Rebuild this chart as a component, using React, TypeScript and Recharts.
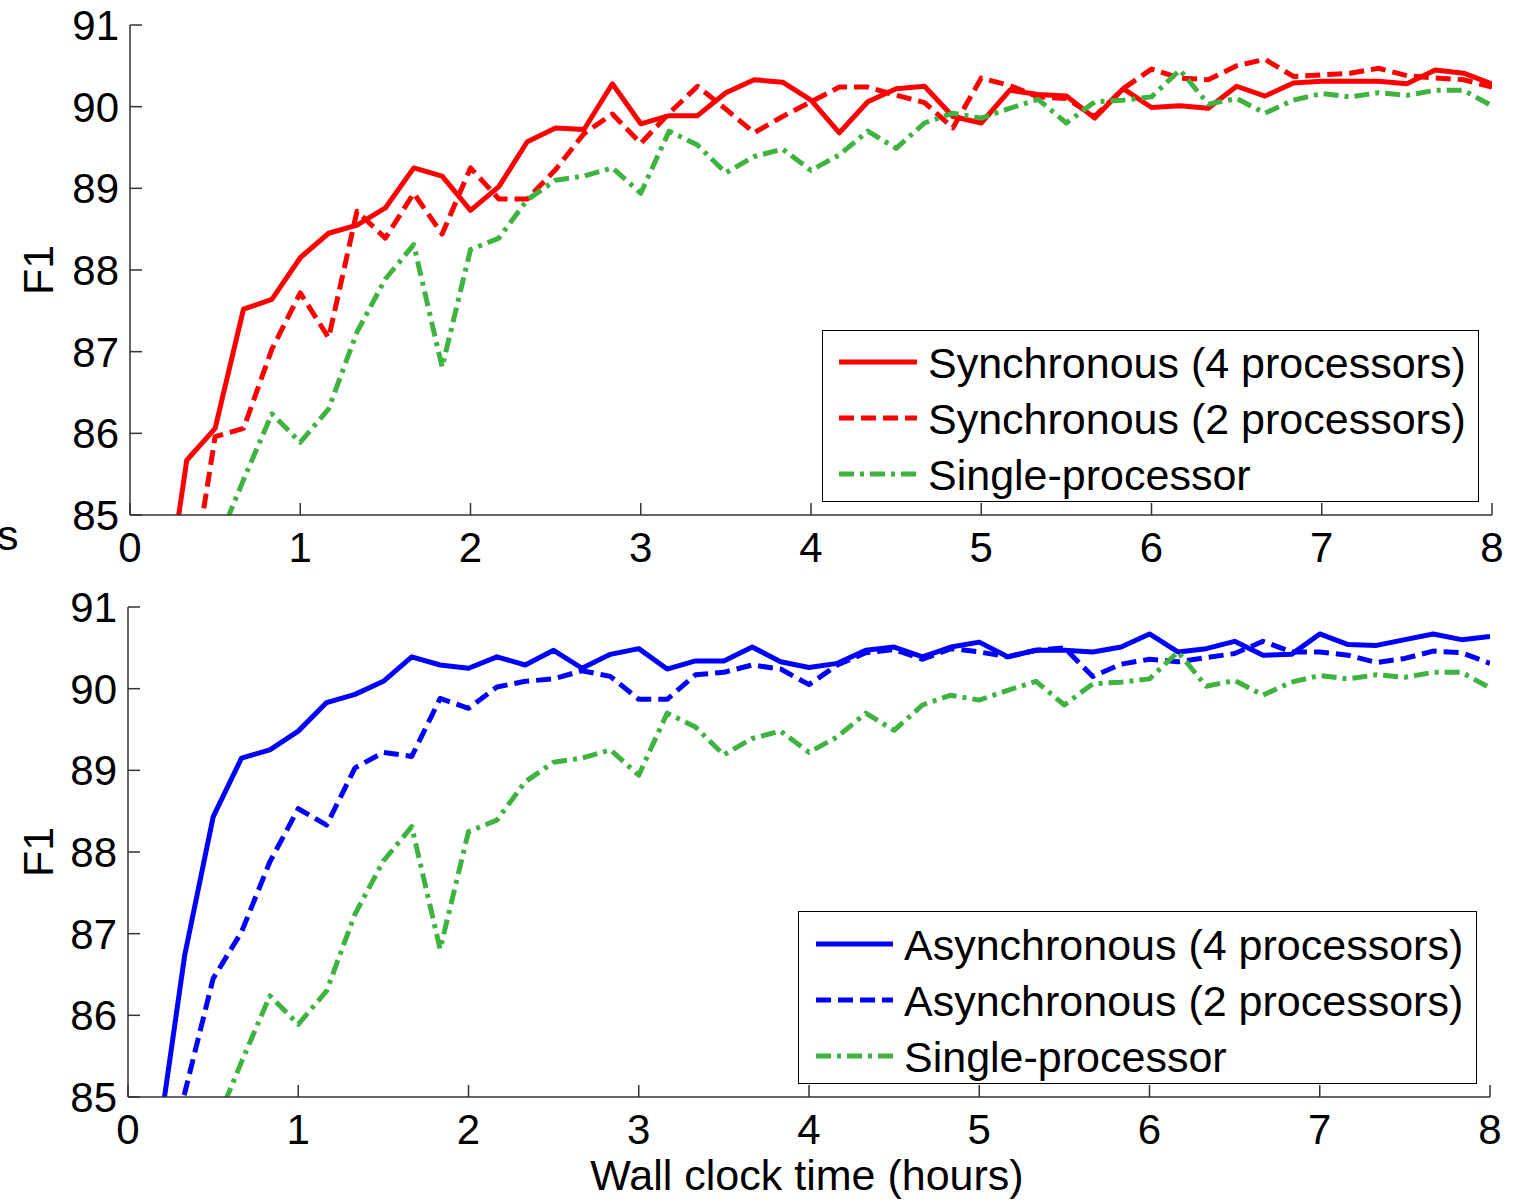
import { LineChart, Line, XAxis, YAxis } from 'recharts'

// ---------------------------------------------------------------------------
// F1 vs wall clock time — synchronous (top) and asynchronous (bottom) training
// ---------------------------------------------------------------------------

const FONT = "'Liberation Sans', Arial, Helvetica, sans-serif"
const AXIS = '#333333'
const RED = '#ff0000'
const BLUE = '#0000ff'
const GREEN = '#3fb33f'

// sample times, in minutes
const minutes = [
  0, 10, 20, 30, 40, 50, 60, 70, 80, 90, 100, 110, 120, 130, 140, 150, 160,
  170, 180, 190, 200, 210, 220, 230, 240, 250, 260, 270, 280, 290, 300, 310,
  320, 330, 340, 350, 360, 370, 380, 390, 400, 410, 420, 430, 440, 450, 460,
  470, 480,
]

const xTicks = [0, 1, 2, 3, 4, 5, 6, 7, 8]
const yTicks = [85, 86, 87, 88, 89, 90, 91]

const sync4 = [
  null, 83.3, 85.67, 86.06, 87.52, 87.64, 88.15, 88.45, 88.55, 88.76, 89.25,
  89.15, 88.73, 89.02, 89.57, 89.74, 89.72, 90.28, 89.79, 89.89, 89.89, 90.17,
  90.33, 90.3, 90.08, 89.68, 90.06, 90.22, 90.25, 89.88, 89.8, 90.2, 90.15,
  90.13, 89.86, 90.22, 89.99, 90.01, 89.98, 90.25, 90.13, 90.29, 90.31, 90.31,
  90.31, 90.28, 90.45, 90.41, 90.28,
]

const sync2 = [
  null, null, 83.75, 85.96, 86.06, 87.03, 87.72, 87.17, 88.72, 88.39, 88.94,
  88.44, 89.25, 88.87, 88.87, 89.23, 89.67, 89.91, 89.55, 89.92, 90.25, 89.97,
  89.68, 89.88, 90.06, 90.24, 90.24, 90.14, 90.05, 89.74, 90.35, 90.26, 90.12,
  90.1, 89.88, 90.22, 90.46, 90.35, 90.33, 90.5, 90.58, 90.37, 90.39, 90.41,
  90.47, 90.38, 90.35, 90.33, 90.24,
]

const single = [
  null, null, null, 84.59, 85.43, 86.24, 85.89, 86.3, 87.24, 87.89, 88.31,
  86.81, 88.25, 88.39, 88.86, 89.1, 89.15, 89.25, 88.94, 89.7, 89.53, 89.19,
  89.39, 89.48, 89.22, 89.41, 89.7, 89.49, 89.8, 89.92, 89.86, 89.98, 90.09,
  89.8, 90.06, 90.08, 90.12, 90.45, 90.03, 90.1, 89.92, 90.08, 90.16, 90.12,
  90.17, 90.14, 90.2, 90.2, 90.01,
]

const async4 = [
  null, 84.3, 86.74, 88.43, 89.15, 89.25, 89.48, 89.83, 89.93, 90.09, 90.39,
  90.29, 90.25, 90.39, 90.29, 90.47, 90.25, 90.42, 90.49, 90.24, 90.34, 90.34,
  90.51, 90.33, 90.26, 90.31, 90.47, 90.51, 90.39, 90.51, 90.57, 90.39, 90.47,
  90.47, 90.45, 90.51, 90.67, 90.45, 90.49, 90.58, 90.41, 90.42, 90.67, 90.54,
  90.53, 90.6, 90.67, 90.6, 90.64,
]

const async2 = [
  null, 84.0, 85.05, 86.45, 87.02, 87.88, 88.53, 88.33, 89.03, 89.22, 89.17,
  89.88, 89.76, 90.02, 90.09, 90.12, 90.22, 90.15, 89.87, 89.87, 90.17, 90.2,
  90.29, 90.24, 90.05, 90.29, 90.44, 90.48, 90.36, 90.49, 90.45, 90.39, 90.47,
  90.5, 90.15, 90.3, 90.36, 90.33, 90.38, 90.43, 90.58, 90.45, 90.45, 90.41,
  90.32, 90.37, 90.46, 90.44, 90.31,
]

const data = minutes.map((m, i) => ({
  t: m / 60,
  sync4: sync4[i],
  sync2: sync2[i],
  single: single[i],
  async4: async4[i],
  async2: async2[i],
}))

interface SeriesDef {
  key: string
  label: string
  color: string
  dash?: string
}

const topSeries: SeriesDef[] = [
  { key: 'sync4', label: 'Synchronous (4 processors)', color: RED },
  { key: 'sync2', label: 'Synchronous (2 processors)', color: RED, dash: '15 7' },
  { key: 'single', label: 'Single-processor', color: GREEN, dash: '15 6 4 6' },
]

const bottomSeries: SeriesDef[] = [
  { key: 'async4', label: 'Asynchronous (4 processors)', color: BLUE },
  { key: 'async2', label: 'Asynchronous (2 processors)', color: BLUE, dash: '15 7' },
  { key: 'single', label: 'Single-processor', color: GREEN, dash: '15 6 4 6' },
]

const LINE_W = 5

// MATLAB style ticks: short marks pointing into the plot
const XTick = (props: any) => {
  const { x, y, payload } = props
  return (
    <g>
      <line x1={x} y1={y} x2={x} y2={y - 12} stroke={AXIS} strokeWidth={1.5} />
      <text x={x} y={y + 47} textAnchor="middle" fontSize={42} fontFamily={FONT} fill="#000">
        {payload.value}
      </text>
    </g>
  )
}

const YTick = (props: any) => {
  const { x, y, payload } = props
  return (
    <g>
      <line x1={x} y1={y} x2={x + 12} y2={y} stroke={AXIS} strokeWidth={1.5} />
      <text x={x - 11} y={y + 15} textAnchor="end" fontSize={42} fontFamily={FONT} fill="#000">
        {payload.value}
      </text>
    </g>
  )
}

interface LegendBoxProps {
  series: SeriesDef[]
  left: number
  top: number
  width: number
  height: number
  lineX1: number
  lineX2: number
  textX: number
  rowY: number[]
}

function LegendBox({ series, left, top, width, height, lineX1, lineX2, textX, rowY }: LegendBoxProps) {
  return (
    <div
      style={{
        position: 'absolute',
        left,
        top,
        width,
        height,
        border: '1.5px solid #000',
        boxSizing: 'border-box',
        background: '#fff',
      }}
    >
      <svg width={width - 3} height={height - 3} style={{ display: 'block' }}>
        {series.map((s, i) => (
          <g key={s.key}>
            <line
              x1={lineX1}
              x2={lineX2}
              y1={rowY[i]}
              y2={rowY[i]}
              stroke={s.color}
              strokeWidth={LINE_W}
              strokeDasharray={s.dash}
            />
            <text x={textX} y={rowY[i] + 15.5} fontSize={43} fontFamily={FONT} fill="#000">
              {s.label}
            </text>
          </g>
        ))}
      </svg>
    </div>
  )
}

interface PanelProps {
  series: SeriesDef[]
  height: number
  margin: { top: number; right: number; bottom: number; left: number }
}

function Panel({ series, height, margin }: PanelProps) {
  return (
    <LineChart width={1520} height={height} data={data} margin={margin}>
      <XAxis
        dataKey="t"
        type="number"
        domain={[0, 8]}
        ticks={xTicks}
        allowDataOverflow
        height={30}
        tickSize={0}
        tickMargin={0}
        tickLine={false}
        tick={XTick}
        axisLine={{ stroke: AXIS, strokeWidth: 1.5 }}
      />
      <YAxis
        type="number"
        domain={[85, 91]}
        ticks={yTicks}
        allowDataOverflow
        width={60}
        tickSize={0}
        tickMargin={0}
        tickLine={false}
        tick={YTick}
        axisLine={{ stroke: AXIS, strokeWidth: 1.5 }}
      />
      {series.map((s) => (
        <Line
          key={s.key}
          dataKey={s.key}
          stroke={s.color}
          strokeWidth={LINE_W}
          strokeDasharray={s.dash}
          strokeLinejoin="round"
          dot={false}
          activeDot={false}
          isAnimationActive={false}
          connectNulls={false}
        />
      ))}
    </LineChart>
  )
}

export default function App() {
  return (
    <div
      style={{
        position: 'absolute',
        left: 0,
        top: 0,
        width: 1520,
        height: 1200,
        background: '#fff',
        overflow: 'hidden',
        fontFamily: FONT,
      }}
    >
      <div style={{ position: 'absolute', left: 0, top: 0 }}>
        <Panel series={topSeries} height={580} margin={{ top: 25, right: 28, bottom: 35, left: 70 }} />
      </div>
      <div style={{ position: 'absolute', left: 0, top: 580 }}>
        <Panel series={bottomSeries} height={620} margin={{ top: 27, right: 30, bottom: 73, left: 68 }} />
      </div>

      <LegendBox
        series={topSeries}
        left={822}
        top={330}
        width={657}
        height={172}
        lineX1={16}
        lineX2={94}
        textX={105}
        rowY={[31, 87, 143]}
      />
      <LegendBox
        series={bottomSeries}
        left={798}
        top={911}
        width={679}
        height={173}
        lineX1={17}
        lineX2={94}
        textX={105}
        rowY={[32, 88, 144]}
      />

      <svg
        width={1520}
        height={1200}
        style={{ position: 'absolute', left: 0, top: 0, pointerEvents: 'none' }}
      >
        <text x={-3} y={550} fontSize={43} fontFamily={FONT} fill="#000">
          s
        </text>
        <text
          x={53}
          y={270}
          transform="rotate(-90 53 270)"
          textAnchor="middle"
          fontSize={43}
          fontFamily={FONT}
          fill="#000"
        >
          F1
        </text>
        <text
          x={53}
          y={852}
          transform="rotate(-90 53 852)"
          textAnchor="middle"
          fontSize={43}
          fontFamily={FONT}
          fill="#000"
        >
          F1
        </text>
        <text x={807} y={1190} textAnchor="middle" fontSize={43} fontFamily={FONT} fill="#000">
          Wall clock time (hours)
        </text>
      </svg>
    </div>
  )
}
